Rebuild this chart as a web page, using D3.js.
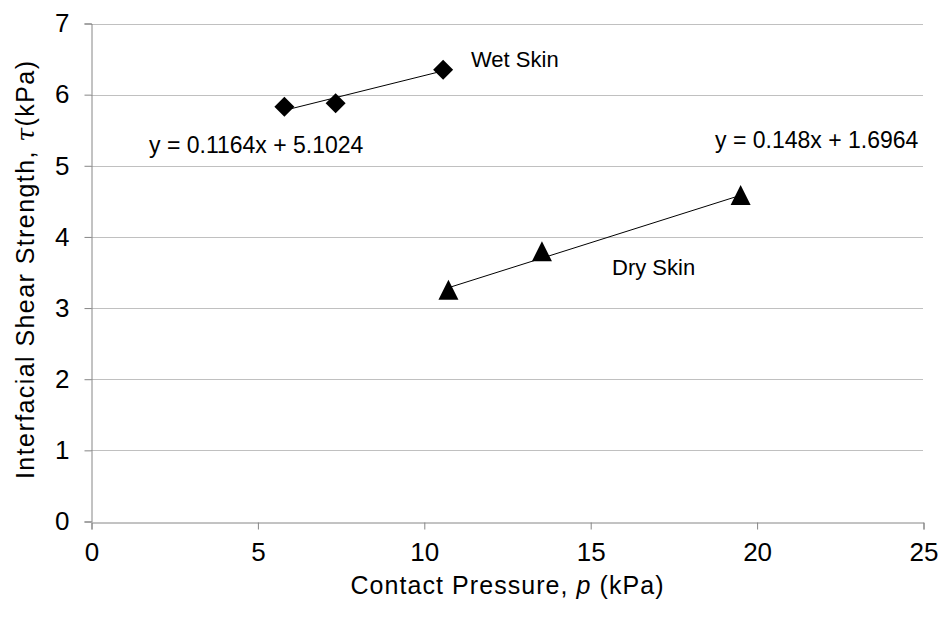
<!DOCTYPE html>
<html>
<head>
<meta charset="utf-8">
<script src="https://cdnjs.cloudflare.com/ajax/libs/d3/7.8.5/d3.min.js"></script>
<style>
  body { margin: 0; background: #fff; }
  text { font-family: "Liberation Sans", sans-serif; fill: #000; }
</style>
</head>
<body>
<div id="chart"></div>
<script>
// data
var wetX = [5.81, 7.35, 10.58];
var wetY = [5.83, 5.88, 6.35];
var dryX = [10.74, 13.55, 19.52];
var dryY = [3.23, 3.77, 4.56];
var wetFit = [0.1164, 5.1024];
var dryFit = [0.148, 1.6964];
var xTicks = [0, 5, 10, 15, 20, 25];
var yTicks = [0, 1, 2, 3, 4, 5, 6, 7];

var width = 942, height = 617;
var margin = {top: 23.5, right: 19, bottom: 95.5, left: 91};

var svg = d3.select("#chart").append("svg")
  .attr("width", width)
  .attr("height", height);

var x = d3.scaleLinear().domain([0, 25]).range([margin.left, width - margin.right]);
var y = d3.scaleLinear().domain([0, 7]).range([height - margin.bottom, margin.top]);

// gridlines
svg.append("g")
  .selectAll("line")
  .data(yTicks.filter(function(d) { return d > 0; }))
  .enter().append("line")
    .attr("x1", x(0)).attr("x2", x(25))
    .attr("y1", function(d) { return Math.round(y(d)) + 0.5; })
    .attr("y2", function(d) { return Math.round(y(d)) + 0.5; })
    .style("stroke", "#c0c0c0")
    .style("stroke-width", 1);

// y axis
var yAxis = svg.append("g")
  .attr("transform", "translate(" + (x(0) + 0.5) + ",0)")
  .call(d3.axisLeft(y).tickValues(yTicks).tickSize(7).tickPadding(15).tickFormat(d3.format("d")));
yAxis.selectAll("path, line").style("stroke", "#868686");
yAxis.selectAll("text").style("font-size", "26px").style("font-family", "Liberation Sans, sans-serif");

// x axis
var xAxis = svg.append("g")
  .attr("transform", "translate(0.5," + (Math.round(y(0)) + 0.5) + ")")
  .call(d3.axisBottom(x).tickValues(xTicks).tickSize(7).tickPadding(13).tickFormat(d3.format("d")));
xAxis.selectAll("path, line").style("stroke", "#868686");
xAxis.selectAll("text").style("font-size", "26px").style("font-family", "Liberation Sans, sans-serif");

// axis titles
var xt = svg.append("text")
  .attr("x", (x(0) + x(25)) / 2)
  .attr("y", 594)
  .attr("text-anchor", "middle")
  .attr("textLength", 313)
  .attr("lengthAdjust", "spacing")
  .style("font-size", "25px");
xt.append("tspan").text("Contact Pressure, ");
xt.append("tspan").style("font-style", "italic").text("p");
xt.append("tspan").text(" (kPa)");

var yt = svg.append("text")
  .attr("transform", "translate(34,270) rotate(-90)")
  .attr("text-anchor", "middle")
  .attr("textLength", 418)
  .attr("lengthAdjust", "spacing")
  .style("font-size", "25px");
yt.append("tspan").text("Interfacial Shear Strength, ");
yt.append("tspan").style("font-family", "DejaVu Serif, serif").style("font-style", "italic").text("τ");
yt.append("tspan").text("(kPa)");

// trendlines
function fitLine(xs, fit) {
  var x0 = d3.min(xs), x1 = d3.max(xs);
  return [[x0, fit[0] * x0 + fit[1]], [x1, fit[0] * x1 + fit[1]]];
}
var line = d3.line().x(function(d) { return x(d[0]); }).y(function(d) { return y(d[1]); });

svg.append("path")
  .attr("d", line(fitLine(wetX, wetFit)))
  .style("fill", "none").style("stroke", "#000").style("stroke-width", 1);
svg.append("path")
  .attr("d", line(fitLine(dryX, dryFit)))
  .style("fill", "none").style("stroke", "#000").style("stroke-width", 1);

// markers
var wet = wetX.map(function(d, i) { return [d, wetY[i]]; });
var dry = dryX.map(function(d, i) { return [d, dryY[i]]; });

svg.append("g").selectAll("path")
  .data(wet)
  .enter().append("path")
    .attr("transform", function(d) { return "translate(" + x(d[0]) + "," + y(d[1]) + ")"; })
    .attr("d", "M0,-10L10,0L0,10L-10,0Z")
    .style("fill", "#000");

svg.append("g").selectAll("path")
  .data(dry)
  .enter().append("path")
    .attr("transform", function(d) { return "translate(" + x(d[0]) + "," + y(d[1]) + ")"; })
    .attr("d", "M0,-12L10,8L-10,8Z")
    .style("fill", "#000");

// annotations
svg.append("text").attr("x", 471).attr("y", 67).style("font-size", "22px").text("Wet Skin");
svg.append("text").attr("x", 612).attr("y", 275).style("font-size", "22px").text("Dry Skin");
svg.append("text").attr("x", 149).attr("y", 153).style("font-size", "23px")
  .text("y = " + wetFit[0] + "x + " + wetFit[1]);
svg.append("text").attr("x", 715).attr("y", 148).style("font-size", "23px")
  .text("y = " + dryFit[0] + "x + " + dryFit[1]);
</script>
</body>
</html>
